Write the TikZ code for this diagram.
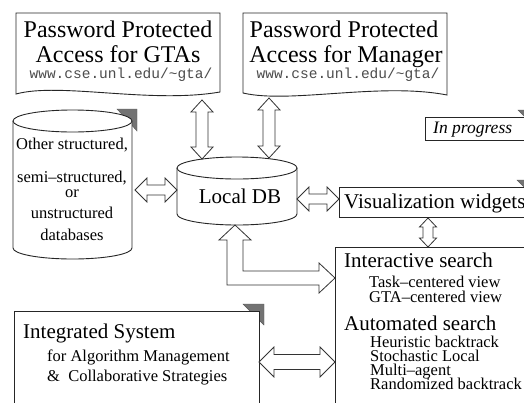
\documentclass[tikz,border=0pt]{standalone}
\usepackage{fontspec}
\setmainfont{Liberation Serif}
\setmonofont{Liberation Mono}
\usetikzlibrary{calc}
\newcommand{\myfs}[1]{\fontsize{#1}{#1}\selectfont}
% vertical double block arrow: #1 top coord, #2 bottom coord, #3 shaft half, #4 head half, #5 head length
\newcommand{\myvarrow}[5]{\draw[blockarrow] let \p1=(#1), \p2=(#2) in
  (\x1,\y1) -- (\x1+#4pt,\y1-#5pt) -- (\x1+#3pt,\y1-#5pt) -- (\x1+#3pt,\y2+#5pt) -- (\x1+#4pt,\y2+#5pt)
  -- (\x1,\y2) -- (\x1-#4pt,\y2+#5pt) -- (\x1-#3pt,\y2+#5pt) -- (\x1-#3pt,\y1-#5pt) -- (\x1-#4pt,\y1-#5pt) -- cycle;}
% horizontal double block arrow: #1 left coord, #2 right coord
\newcommand{\myharrow}[5]{\draw[blockarrow] let \p1=(#1), \p2=(#2) in
  (\x1,\y1) -- (\x1+#5pt,\y1+#4pt) -- (\x1+#5pt,\y1+#3pt) -- (\x2-#5pt,\y1+#3pt) -- (\x2-#5pt,\y1+#4pt)
  -- (\x2,\y1) -- (\x2-#5pt,\y1-#4pt) -- (\x2-#5pt,\y1-#3pt) -- (\x1+#5pt,\y1-#3pt) -- (\x1+#5pt,\y1-#4pt) -- cycle;}
\begin{document}
\begin{tikzpicture}[x=1pt,y=-1pt,
  outline/.style={draw=black!85, line width=0.9pt, fill=white},
  blockarrow/.style={draw=black!80, line width=0.8pt, fill=white, line join=miter},
  shadowtri/.style={fill=black!55, draw=black!65, line width=0.4pt},
  title/.style={font=\myfs{24}, inner sep=0pt},
  url/.style={font=\ttfamily\myfs{14.5}, text=black!70, inner sep=0pt},
  head/.style={font=\myfs{21}, inner sep=0pt},
  small/.style={font=\myfs{16.5}, inner sep=0pt},
]
\useasboundingbox (0,0) rectangle (524,402);
\clip (0,0) rectangle (524,402);
\fill[white] (0,0) rectangle (524,402);

% ---- document shapes ----
\draw[outline] (16,13) -- (220,13) -- (220,92) .. controls (150,104) and (60,82) .. (16,94) -- cycle;
\node[title, anchor=base] (gta1) at (118,37) {Password Protected};
\node[title, anchor=base] (gta2) at (118,62) {Access for GTAs};
\node[url, anchor=base] (gta3) at (121,78) {www.cse.unl.edu/\string~gta/};

\draw[outline] (243,13) -- (447,13) -- (447,95) .. controls (380,82) and (290,104) .. (243,93) -- cycle;
\node[title, anchor=base] (man1) at (344,37) {Password Protected};
\node[title, anchor=base] (man2) at (346,62) {Access for Manager};
\node[url, anchor=base] (man3) at (348,78) {www.cse.unl.edu/\string~gta/};

% ---- other databases cylinder ----
\draw[shadowtri] (117,109) -- (137,109) -- (137,131) -- cycle;
\path[outline, draw=none] (13,121) -- (13,248) arc[start angle=180, end angle=0, x radius=59.5, y radius=11] -- (132,121) -- cycle;
\draw[draw=black!85, line width=0.9pt] (13,121) -- (13,248) arc[start angle=180, end angle=0, x radius=59.5, y radius=11] -- (132,121);
\draw[outline] (72.5,121) ellipse[x radius=59.5, y radius=11];
\node[small, anchor=base] (o1) at (72,149) {Other structured,};
\node[small, anchor=base] (o2) at (72,182) {semi--structured,};
\node[small, anchor=base] (o3) at (72,197) {or};
\node[small, anchor=base] (o4) at (72,218) {unstructured};
\node[small, anchor=base] (o5) at (72,240) {databases};

% ---- local DB cylinder ----
\path[outline, draw=none] (177,168) -- (177,214) arc[start angle=180, end angle=0, x radius=60, y radius=11] -- (297,168) -- cycle;
\draw[draw=black!85, line width=0.9pt] (177,168) -- (177,214) arc[start angle=180, end angle=0, x radius=60, y radius=11] -- (297,168);
\draw[outline] (237,168) ellipse[x radius=60, y radius=11];
\node[head, anchor=base] (ldb) at (240,203) {Local DB};

% ---- In progress ----
\draw[shadowtri] (518,110) -- (539,110) -- (539,131) -- cycle;
\draw[outline] (425,117) rectangle (545,140);
\node[font=\itshape\myfs{17.5}, inner sep=0pt, anchor=base west] (prog) at (433,133) {In progress};

% ---- Visualization widgets ----
\draw[shadowtri] (517,180) -- (538,180) -- (538,201) -- cycle;
\draw[outline] (339,187) rectangle (545,217);
\node[head, anchor=base west] (vis) at (344,208) {Visualization widgets};

% ---- Search box ----
\draw[outline] (335,247) rectangle (545,430);
\node[head, anchor=base west] (isearch) at (344,267) {Interactive search};
\node[small, anchor=base west] (s1) at (369,287) {Task--centered view};
\node[small, anchor=base west] (s2) at (369,302) {GTA--centered view};
\node[head, anchor=base west] (asearch) at (344,330) {Automated search};
\node[small, anchor=base west] (s3) at (370,347) {Heuristic backtrack};
\node[small, anchor=base west] (s4) at (370,361) {Stochastic Local};
\node[small, anchor=base west] (s5) at (370,375) {Multi--agent};
\node[small, anchor=base west] (s6) at (370,389) {Randomized backtrack};

% ---- Integrated System ----
\draw[shadowtri] (243,304) -- (264,304) -- (264,325) -- cycle;
\draw[outline] (14,311) rectangle (259,430);
\node[head, anchor=base west] (integ) at (23,338) {Integrated System};
\node[small, anchor=base west] (i1) at (47,361) {for Algorithm Management};
\node[small, anchor=base west] (i2) at (47,381) {\&\ \ Collaborative Strategies};

% ---- block arrows ----
\coordinate (a1s) at (202,100); \coordinate (a1e) at (202,159);
\coordinate (a2s) at (269,98);  \coordinate (a2e) at (269,158);
\coordinate (a3s) at (135,190); \coordinate (a3e) at (177,190);
\coordinate (a4s) at (297,199); \coordinate (a4e) at (339,199);
\coordinate (a5s) at (428,218); \coordinate (a5e) at (428,247);
\coordinate (a7s) at (259,362); \coordinate (a7e) at (335,362);
\myvarrow{a1s}{a1e}{6}{11}{12}
\myvarrow{a2s}{a2e}{6}{11}{12}
\myharrow{a3s}{a3e}{5}{12}{12}
\myharrow{a4s}{a4e}{5}{12}{12}
\myvarrow{a5s}{a5e}{5}{8.5}{9}
\myharrow{a7s}{a7e}{7.5}{15}{15}
% L-shaped arrow from Local DB to search box
\draw[blockarrow] (235,225) -- (251,240) -- (243,240) -- (243,271) -- (319,271) -- (319,263) -- (335,278)
  -- (319,293) -- (319,285) -- (227,285) -- (227,240) -- (219,240) -- cycle;
\end{tikzpicture}
\end{document}
